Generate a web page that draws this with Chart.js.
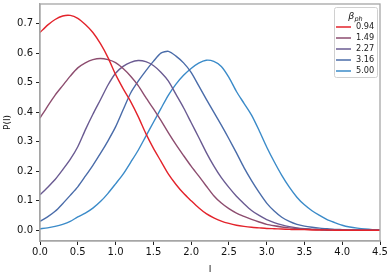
<!DOCTYPE html>
<html>
<head>
<meta charset="utf-8">
<script src="https://cdn.jsdelivr.net/npm/chart.js@4.4.0/dist/chart.umd.min.js"></script>
<style>
    html, body { margin: 0; padding: 0; background: #fff; }
    canvas { display: block; }
</style>
</head>
<body>
<canvas id="chart" width="392" height="275"></canvas>
<script>
// intensity grid (I)
const intensity = [0.0, 0.1, 0.2, 0.3, 0.4, 0.5, 0.6, 0.7, 0.8, 0.9,
    1.0, 1.1, 1.2, 1.3, 1.4, 1.5, 1.6, 1.7, 1.8, 1.9,
    2.0, 2.1, 2.2, 2.3, 2.4, 2.5, 2.6, 2.7, 2.8, 2.9,
    3.0, 3.1, 3.2, 3.3, 3.4, 3.5, 3.6, 3.7, 3.8, 3.9,
    4.0, 4.1, 4.2, 4.3, 4.4, 4.5];

const betaLabels = ['0.94', '1.49', '2.27', '3.16', '5.00'];

// P(I), one array per beta_ph
const pBeta094 = [0.670, 0.695, 0.714, 0.726, 0.728, 0.718, 0.697, 0.670, 0.632, 0.585,
    0.528, 0.480, 0.436, 0.385, 0.328, 0.278, 0.234, 0.190, 0.155, 0.125,
    0.100, 0.076, 0.056, 0.042, 0.031, 0.023, 0.017, 0.013, 0.010, 0.008,
    0.006, 0.005, 0.004, 0.003, 0.002, 0.002, 0.001, 0.001, 0.001, 0.000,
    0.000, 0.000, 0.000, 0.000, 0.000, 0.000];
const pBeta149 = [0.380, 0.420, 0.458, 0.490, 0.522, 0.550, 0.567, 0.578, 0.582, 0.578,
    0.568, 0.548, 0.522, 0.490, 0.450, 0.412, 0.372, 0.330, 0.290, 0.253,
    0.217, 0.184, 0.150, 0.117, 0.092, 0.073, 0.058, 0.047, 0.037, 0.028,
    0.020, 0.015, 0.011, 0.008, 0.006, 0.004, 0.003, 0.002, 0.001, 0.001,
    0.000, 0.000, 0.000, 0.000, 0.000, 0.000];
const pBeta227 = [0.120, 0.145, 0.172, 0.205, 0.240, 0.283, 0.340, 0.393, 0.442, 0.492,
    0.532, 0.555, 0.569, 0.575, 0.571, 0.558, 0.535, 0.505, 0.460, 0.415,
    0.365, 0.315, 0.264, 0.218, 0.178, 0.145, 0.115, 0.090, 0.067, 0.050,
    0.036, 0.026, 0.018, 0.012, 0.008, 0.005, 0.003, 0.002, 0.001, 0.001,
    0.000, 0.000, 0.000, 0.000, 0.000, 0.000];
const pBeta316 = [0.030, 0.045, 0.064, 0.090, 0.118, 0.147, 0.183, 0.220, 0.260, 0.303,
    0.350, 0.408, 0.465, 0.505, 0.540, 0.572, 0.600, 0.606, 0.590, 0.567,
    0.535, 0.490, 0.444, 0.400, 0.356, 0.310, 0.262, 0.212, 0.168, 0.128,
    0.092, 0.065, 0.044, 0.030, 0.020, 0.014, 0.010, 0.007, 0.005, 0.003,
    0.002, 0.001, 0.001, 0.000, 0.000, 0.000];
const pBeta500 = [0.005, 0.008, 0.013, 0.020, 0.030, 0.045, 0.058, 0.075, 0.097, 0.125,
    0.157, 0.190, 0.230, 0.271, 0.318, 0.365, 0.412, 0.458, 0.495, 0.525,
    0.548, 0.566, 0.576, 0.572, 0.555, 0.518, 0.470, 0.430, 0.390, 0.338,
    0.282, 0.232, 0.186, 0.146, 0.112, 0.086, 0.066, 0.050, 0.036, 0.026,
    0.017, 0.011, 0.007, 0.004, 0.002, 0.001];

const xTicks = [0.0, 0.5, 1.0, 1.5, 2.0, 2.5, 3.0, 3.5, 4.0, 4.5];
const yTicks = [0.0, 0.1, 0.2, 0.3, 0.4, 0.5, 0.6, 0.7];

const series = [pBeta094, pBeta149, pBeta227, pBeta316, pBeta500];
const lineColors = ['#e3232b', '#8d4d6f', '#6a5b92', '#4a6ca9', '#3b8bc9'];

const FONT = 'DejaVu Sans';
const spineColor = '#a6a6a6';

// top/right spines (chart.js only draws the axis borders)
const frame = {
    id: 'frame',
    afterDatasetsDraw(chart) {
        const { ctx, chartArea: a } = chart;
        ctx.save();
        ctx.strokeStyle = spineColor;
        ctx.lineWidth = 1.3;
        ctx.strokeRect(a.left, a.top, a.right - a.left, a.bottom - a.top);
        ctx.restore();
    }
};

// matplotlib style legend sitting inside the axes, upper right
const insetLegend = {
    id: 'insetLegend',
    afterDraw(chart) {
        const { ctx, chartArea: a } = chart;
        const w = 43, h = 70;
        const x = a.right - w - 3, y = a.top + 3;
        ctx.save();
        ctx.fillStyle = 'rgba(255,255,255,0.85)';
        ctx.strokeStyle = '#d0d0d0';
        ctx.lineWidth = 1;
        ctx.beginPath();
        ctx.roundRect(x + 0.5, y + 0.5, w, h, 2);
        ctx.fill();
        ctx.stroke();

        // title: italic beta with "ph" subscript
        ctx.fillStyle = '#111';
        ctx.textBaseline = 'alphabetic';
        ctx.font = `italic 9.5px ${FONT}`;
        const bw = ctx.measureText('β').width;
        ctx.font = `italic 6.5px ${FONT}`;
        const sw = ctx.measureText('ph').width;
        const tx = x + w / 2 - (bw + sw) / 2;
        ctx.font = `italic 9.5px ${FONT}`;
        ctx.fillText('β', tx, y + 12);
        ctx.font = `italic 6.5px ${FONT}`;
        ctx.fillText('ph', tx + bw, y + 14);

        ctx.font = `8.2px ${FONT}`;
        ctx.textBaseline = 'middle';
        chart.data.datasets.forEach((ds, i) => {
            const ry = y + 20 + i * 11;
            ctx.strokeStyle = ds.borderColor;
            ctx.lineWidth = 1.5;
            ctx.beginPath();
            ctx.moveTo(x + 2, ry);
            ctx.lineTo(x + 17, ry);
            ctx.stroke();
            ctx.fillStyle = '#222';
            ctx.fillText(ds.label, x + 22, ry);
        });
        ctx.restore();
    }
};

const datasets = series.map((values, i) => ({
    label: betaLabels[i],
    data: values.map((v, k) => ({ x: intensity[k], y: v })),
    borderColor: lineColors[i],
    borderWidth: 1.4,
    pointRadius: 0,
    tension: 0.25,
    fill: false
}));

const tickStyle = { color: '#111', font: { family: FONT, size: 10 } };

const axisGrid = {
    display: true,
    drawOnChartArea: false,
    drawTicks: true,
    tickLength: 4,
    tickColor: '#222',
    tickWidth: 1
};

new Chart(document.getElementById('chart'), {
    type: 'line',
    data: { datasets },
    options: {
        responsive: false,
        animation: false,
        devicePixelRatio: 1,
        layout: { padding: { top: 4, right: 12, left: 0, bottom: 0 } },
        plugins: {
            legend: { display: false },
            tooltip: { enabled: false }
        },
        scales: {
            x: {
                type: 'linear',
                min: 0,
                max: 4.5,
                afterBuildTicks: (scale) => { scale.ticks = xTicks.map(v => ({ value: v })); },
                afterFit: (scale) => {
                    scale.height = 34;
                    scale.paddingLeft = 0;
                    scale.paddingRight = 0;
                },
                ticks: Object.assign({}, tickStyle, {
                    padding: 1,
                    maxRotation: 0,
                    callback: (v) => v.toFixed(1)
                }),
                grid: axisGrid,
                border: { display: true, color: spineColor, width: 1.3 },
                title: {
                    display: true,
                    text: 'I',
                    color: '#111',
                    font: { family: FONT, size: 9 },
                    padding: { top: 1, bottom: 0 }
                }
            },
            y: {
                type: 'linear',
                min: -0.0365,
                max: 0.7665,
                afterBuildTicks: (scale) => { scale.ticks = yTicks.map(v => ({ value: v })); },
                afterFit: (scale) => {
                    scale.width = 40;
                    scale.paddingTop = 0;
                    scale.paddingBottom = 0;
                },
                ticks: Object.assign({}, tickStyle, {
                    padding: 3,
                    callback: (v) => v.toFixed(1)
                }),
                grid: axisGrid,
                border: { display: true, color: spineColor, width: 1.3 },
                title: {
                    display: true,
                    text: 'P(I)',
                    color: '#111',
                    font: { family: FONT, size: 9 },
                    padding: { top: 2, bottom: 0 }
                }
            }
        }
    },
    plugins: [frame, insetLegend]
});
</script>
</body>
</html>
